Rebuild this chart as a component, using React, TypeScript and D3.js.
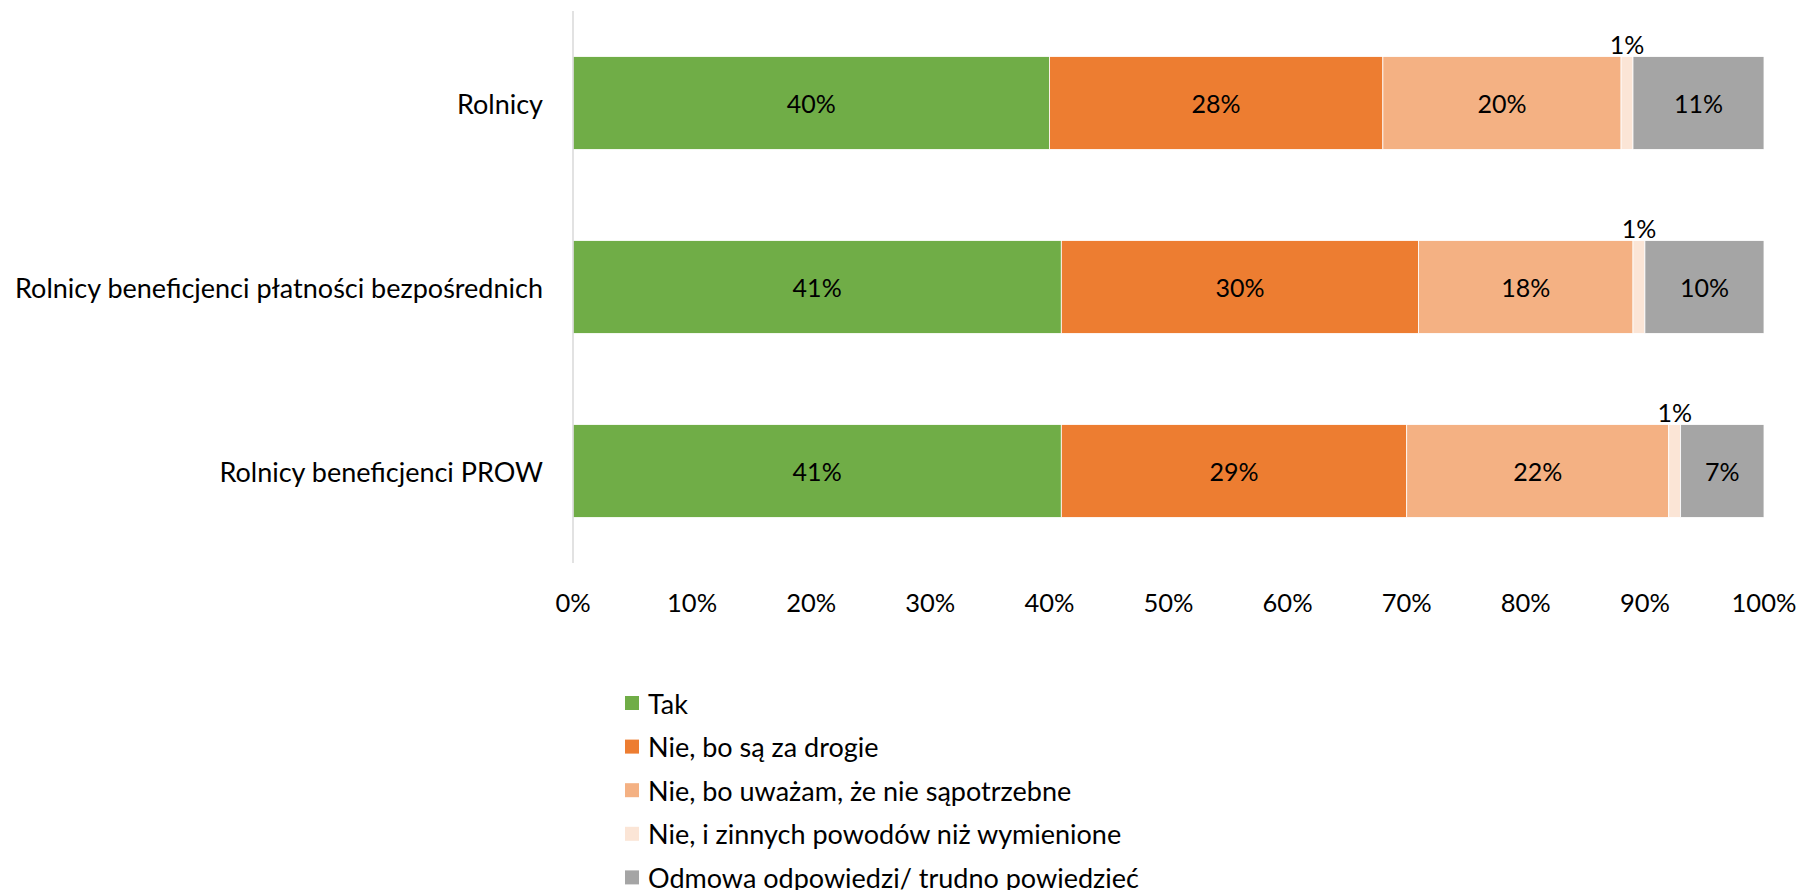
import React from "react";
import * as d3 from "d3";

const categories = [
  "Rolnicy",
  "Rolnicy beneficjenci płatności bezpośrednich",
  "Rolnicy beneficjenci PROW",
];
const seriesNames = [
  "Tak",
  "Nie, bo są za drogie",
  "Nie, bo uważam, że nie sąpotrzebne",
  "Nie, i zinnych powodów niż wymienione",
  "Odmowa odpowiedzi/ trudno powiedzieć",
];
const seriesColors = ["#70AD47", "#ED7D31", "#F4B183", "#FBE5D6", "#A5A5A5"];
const tak = [40, 41, 41];
const zaDrogie = [28, 30, 29];
const niePotrzebne = [20, 18, 22];
const inne = [1, 1, 1];
const odmowa = [11, 10, 7];
const seriesValues = [tak, zaDrogie, niePotrzebne, inne, odmowa];
const xTicks = [0, 10, 20, 30, 40, 50, 60, 70, 80, 90, 100];

const W = 1801;
const H = 890;
const FONT = "Lato, 'Open Sans', sans-serif";

export default function App() {
  const x = d3.scaleLinear().domain([0, 100]).range([573, 1764]);
  const y = d3
    .scaleBand<string>()
    .domain(categories)
    .range([11, 563])
    .paddingInner(0.495)
    .paddingOuter(0.2475);

  const rows = categories.map((c, ci) => {
    const rec: any = { cat: c };
    seriesNames.forEach((s, si) => (rec[s] = seriesValues[si][ci]));
    return rec;
  });
  const stacked = d3.stack<any>().keys(seriesNames)(rows);

  return (
    <svg
      width={W}
      height={H}
      style={{ position: "absolute", left: 0, top: 0, background: "#fff" }}
      fontFamily={FONT}
    >
      <rect width={W} height={H} fill="#fff" />
      {stacked.map((layer, si) => (
        <g key={si}>
          {layer.map((d, ci) => {
            const x0 = x(d[0]);
            const x1 = x(d[1]);
            const yy = y(categories[ci])!;
            const bw = y.bandwidth();
            const v = d[1] - d[0];
            const small = v < 3;
            return (
              <g key={ci}>
                <rect
                  x={x0}
                  y={yy}
                  width={x1 - x0}
                  height={bw}
                  fill={seriesColors[si]}
                  stroke="#fff"
                  strokeWidth={0.8}
                />
                <text
                  x={(x0 + x1) / 2}
                  y={small ? yy - 13 : yy + bw / 2}
                  textAnchor="middle"
                  dominantBaseline="central"
                  fontSize={25}
                  fill="#000"
                >
                  {v}%
                </text>
              </g>
            );
          })}
        </g>
      ))}
      <line x1={x(0)} x2={x(0)} y1={11} y2={563} stroke="#D9D9D9" strokeWidth={1.5} />
      {categories.map((c) => (
        <text
          key={c}
          x={543}
          y={y(c)! + y.bandwidth() / 2}
          textAnchor="end"
          dominantBaseline="central"
          fontSize={27}
          fill="#000"
        >
          {c}
        </text>
      ))}
      {xTicks.map((t) => (
        <text
          key={t}
          x={x(t)}
          y={602}
          textAnchor="middle"
          dominantBaseline="central"
          fontSize={25.5}
          fill="#000"
        >
          {t}%
        </text>
      ))}
      {seriesNames.map((s, i) => {
        const cy = 703 + i * 43.6;
        return (
          <g key={s}>
            <rect x={625} y={cy - 7} width={14} height={14} fill={seriesColors[i]} />
            <text x={648} y={cy} dominantBaseline="central" fontSize={27} fill="#000">
              {s}
            </text>
          </g>
        );
      })}
    </svg>
  );
}
